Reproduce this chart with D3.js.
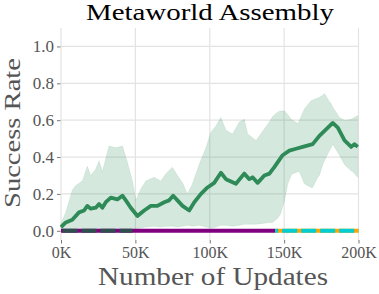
<!DOCTYPE html>
<html lang="en">
<head>
    <meta charset="UTF-8">
    <title>Metaworld Assembly</title>
    <script src="https://cdn.jsdelivr.net/npm/d3@7"></script>
    <style>
        body { margin: 0; background: #fff; }
        svg text { font-family: "Liberation Serif", "Times New Roman", Times, serif; }
    </style>
</head>
<body>
    <div id="chart"></div>
    <script>
        // mean success rate (K updates -> value)
        const meanSteps = [0, 3.2, 7.6, 12.1, 15.5, 17.7, 20, 23.4, 25.6, 27.8, 30.1, 33.5, 37.9, 41.3, 43.6, 46.9,
            51.4, 55.9, 60.4, 64.8, 69.4, 72.7, 75.4, 78.3, 81.7, 86.2, 89.6, 94.1, 98.5, 103, 107.5, 110.9,
            117.6, 123.2, 126.6, 128.8, 132.2, 136.7, 140.1, 143.4, 149, 153.5, 158, 162.5, 169.2, 173.7,
            178.2, 182.7, 186.1, 190.6, 195.1, 197.3, 199.5];
        const meanVals = [0.02, 0.045, 0.06, 0.10, 0.11, 0.135, 0.12, 0.125, 0.145, 0.125, 0.155, 0.18, 0.17, 0.19, 0.165, 0.125,
            0.08, 0.11, 0.135, 0.135, 0.155, 0.165, 0.19, 0.165, 0.135, 0.11, 0.155, 0.2, 0.235, 0.26, 0.315, 0.28,
            0.255, 0.31, 0.28, 0.29, 0.26, 0.30, 0.31, 0.345, 0.41, 0.435, 0.445, 0.455, 0.47, 0.515,
            0.55, 0.585, 0.56, 0.49, 0.455, 0.47, 0.455];

        // confidence band
        const bandSteps = [0, 3.2, 7.6, 9.9, 14.4, 17.7, 20, 23.4, 25.6, 27.8, 32.3, 36.8, 41.3, 44.7, 48, 50.3,
            53.6, 57, 62.6, 67.1, 70.5, 74.9, 78.3, 81.7, 85, 88.4, 92.9, 97.4, 100.8, 104.2, 107.5, 110.9,
            115.4, 119.9, 123.2, 125.5, 131.1, 135.6, 140.1, 142.3, 145.8, 147.5, 150.3, 152.5, 154.7, 155.9,
            159.2, 160.3, 163.6, 168.1, 169.2, 172.6, 173.7, 176, 177.1, 180.5, 181.6, 182.7, 186.1, 187.2,
            190.6, 191.7, 195.1, 196.2, 199.5];
        const bandUpper = [0.04, 0.10, 0.22, 0.245, 0.27, 0.35, 0.30, 0.335, 0.38, 0.32, 0.46, 0.45, 0.46, 0.37, 0.27, 0.165,
            0.225, 0.27, 0.29, 0.27, 0.31, 0.345, 0.30, 0.26, 0.20, 0.255, 0.36, 0.45, 0.535, 0.57, 0.615, 0.545,
            0.525, 0.59, 0.605, 0.525, 0.49, 0.54, 0.59, 0.62, 0.645, 0.65, 0.65, 0.63, 0.605, 0.60,
            0.58, 0.60, 0.66, 0.705, 0.71, 0.72, 0.725, 0.735, 0.745, 0.70, 0.69, 0.67, 0.63, 0.615,
            0.60, 0.60, 0.605, 0.61, 0.625];
        const bandLower = [0, 0, 0, 0, 0, 0, 0, 0, 0, 0, 0, 0, 0, 0, 0.005, 0.01,
            0.015, 0.02, 0.025, 0.02, 0.025, 0.025, 0.02, 0.025, 0.03, 0.025, 0.03, 0.02, 0.015, 0.02, 0.03, 0.03,
            0.025, 0.03, 0.035, 0.035, 0.035, 0.04, 0.045, 0.045, 0.07, 0.09, 0.165, 0.255, 0.30, 0.31,
            0.32, 0.32, 0.255, 0.235, 0.235, 0.29, 0.30, 0.36, 0.38, 0.435, 0.45, 0.47, 0.425, 0.41,
            0.36, 0.35, 0.325, 0.32, 0.29];

        // baselines that stay at zero
        const purpleSteps = [0, 144];
        const purpleVals = [0, 0];
        const slateSteps = [0, 48];
        const slateVals = [0, 0];
        const orangeSteps = [144, 200];
        const orangeVals = [0, 0];

        const xTicks = [0, 50, 100, 150, 200];
        const yTicks = [0, 0.2, 0.4, 0.6, 0.8, 1.0];

        const serif = "'Liberation Serif', 'Times New Roman', Times, serif";
        const width = 379, height = 294;

        const svg = d3.select("#chart")
            .append("svg")
            .attr("width", width)
            .attr("height", height);

        const x = d3.scaleLinear().domain([0, 200]).range([61, 358.5]);
        const y = d3.scaleLinear().domain([-0.05, 1.1]).range([240, 28]);

        // grid
        svg.append("g").selectAll("line.h")
            .data(yTicks).enter().append("line")
            .attr("x1", x(0)).attr("x2", x(200))
            .attr("y1", d => y(d)).attr("y2", d => y(d))
            .attr("stroke", "#e3e3e3").attr("stroke-width", 1.2);
        svg.append("g").selectAll("line.v")
            .data(xTicks).enter().append("line")
            .attr("x1", d => x(d)).attr("x2", d => x(d))
            .attr("y1", y(1.1)).attr("y2", y(-0.05))
            .attr("stroke", "#e3e3e3").attr("stroke-width", 1.2);

        // band
        const band = bandSteps.map((s, i) => ({ s: s, lo: bandLower[i], hi: bandUpper[i] }));
        svg.append("path")
            .datum(band)
            .attr("fill", "#2e8b57")
            .attr("fill-opacity", 0.2)
            .attr("stroke", "#2e8b57")
            .attr("stroke-opacity", 0.12)
            .attr("stroke-width", 0.8)
            .attr("d", d3.area().x(d => x(d.s)).y0(d => y(d.lo)).y1(d => y(d.hi)));

        // mean line
        const line = d3.line().x(d => x(d[0])).y(d => y(d[1]));
        svg.append("path")
            .datum(meanSteps.map((s, i) => [s, meanVals[i]]))
            .attr("fill", "none")
            .attr("stroke", "#2e8b57")
            .attr("stroke-width", 3.8)
            .attr("stroke-linejoin", "round")
            .attr("d", line);

        // zero baselines
        function zeroLine(steps, vals, color, dash, offset) {
            const p = svg.append("path")
                .datum(steps.map((s, i) => [s, vals[i]]))
                .attr("fill", "none")
                .attr("stroke", color)
                .attr("stroke-width", 4)
                .attr("d", line);
            if (dash) p.attr("stroke-dasharray", dash).attr("stroke-dashoffset", offset || 0);
        }
        zeroLine(purpleSteps, purpleVals, "#800080");
        zeroLine(slateSteps, slateVals, "#2f4f4f", "15,4", -1.5);
        zeroLine(orangeSteps, orangeVals, "#ffa500");
        zeroLine(orangeSteps, orangeVals, "#00ced1", "15,4", 12);

        // axes
        const yAxis = svg.append("g")
            .attr("transform", "translate(60.5,0)")
            .call(d3.axisLeft(y).tickValues(yTicks).tickSize(3.5).tickPadding(3).tickFormat(d3.format(".1f")));
        const xAxis = svg.append("g")
            .attr("transform", "translate(0,240)")
            .call(d3.axisBottom(x).tickValues(xTicks).tickSize(3.5).tickPadding(3.6).tickFormat(d => d + "K"));
        [yAxis, xAxis].forEach(a => {
            a.attr("font-family", null);
            a.select(".domain").remove();
            a.selectAll(".tick line").attr("stroke", "#777");
            a.selectAll(".tick text")
                .attr("fill", "#555")
                .style("font-family", serif);
        });
        yAxis.selectAll(".tick text").style("font-size", "17px");
        xAxis.selectAll(".tick text").style("font-size", "16px");

        // labels
        svg.append("text")
            .attr("x", 210).attr("y", 20)
            .attr("text-anchor", "middle")
            .attr("textLength", 248).attr("lengthAdjust", "spacingAndGlyphs")
            .style("font-family", serif)
            .style("font-size", "24px").attr("fill", "#000")
            .text("Metaworld Assembly");

        svg.append("text")
            .attr("x", 213).attr("y", 285)
            .attr("text-anchor", "middle")
            .attr("textLength", 230).attr("lengthAdjust", "spacingAndGlyphs")
            .style("font-family", serif)
            .style("font-size", "25px").attr("fill", "#555")
            .text("Number of Updates");

        svg.append("text")
            .attr("transform", "translate(20,133) rotate(-90)")
            .attr("text-anchor", "middle")
            .attr("textLength", 150).attr("lengthAdjust", "spacingAndGlyphs")
            .style("font-family", serif)
            .style("font-size", "24px").attr("fill", "#555")
            .text("Success Rate");
    </script>
</body>
</html>
